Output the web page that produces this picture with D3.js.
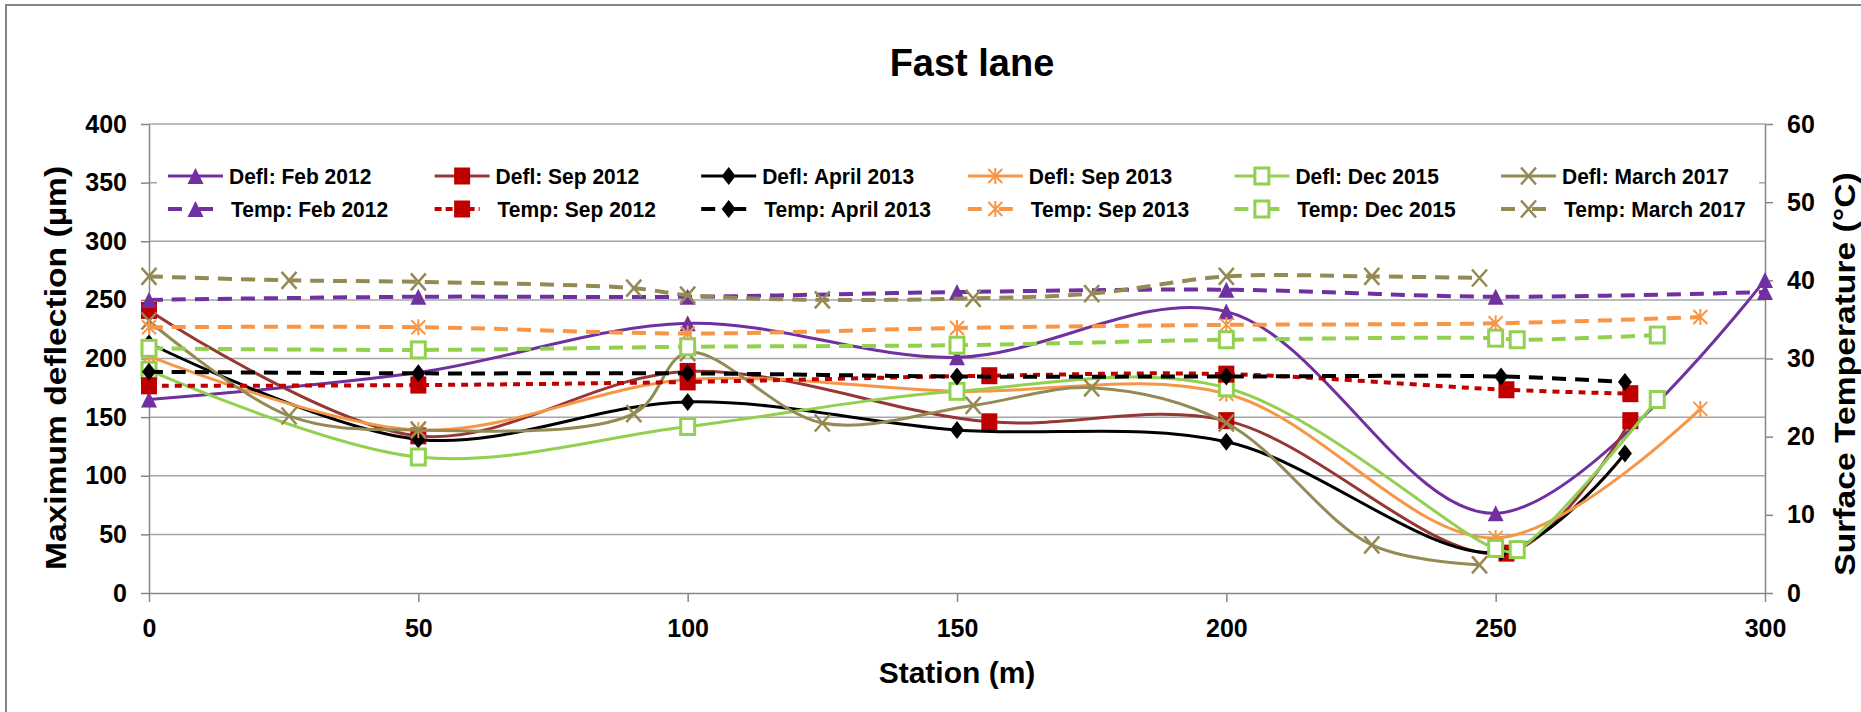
<!DOCTYPE html>
<html><head><meta charset="utf-8">
<script src="https://cdn.jsdelivr.net/npm/d3@7"></script>
<style>
html,body{margin:0;padding:0;background:#fff;}
svg{display:block;}
.reg{font-family:'Liberation Sans',Arial,sans-serif;font-weight:bold;}
</style></head><body>
<svg id="chart" width="1861" height="712"></svg>
<script>
// ---------- data ----------
const xTicks = [0, 50, 100, 150, 200, 250, 300];
const yLeftTicks = [0, 50, 100, 150, 200, 250, 300, 350, 400];
const yRightTicks = [0, 10, 20, 30, 40, 50, 60];

const campaigns = ["Feb 2012", "Sep 2012", "April 2013", "Sep 2013", "Dec 2015", "March 2017"];

const stationFeb2012 = [0, 50, 100, 150, 200, 250, 300];
const deflFeb2012    = [165, 188, 230, 201, 240, 68, 267];
const tempFeb2012    = [37.5, 37.9, 37.9, 38.5, 38.8, 37.9, 38.5];

const stationSep2012 = [0, 50, 100, 156, 200, 252, 275];
const deflSep2012    = [241, 134, 189, 146, 147, 34, 147];
const tempSep2012    = [26.5, 26.6, 27.0, 27.8, 28.0, 26.0, 25.5];

const stationApr2013 = [0, 50, 100, 150, 200, 251, 274];
const deflApr2013    = [213, 131, 163, 139, 129, 35, 119];
const tempApr2013    = [28.3, 28.1, 28.1, 27.7, 27.7, 27.7, 27.0];

const stationSep2013 = [0, 50, 100, 150, 200, 250, 288];
const deflSep2013    = [202, 139, 182, 172, 170, 47, 157];
const tempSep2013    = [34.0, 34.0, 33.2, 33.9, 34.3, 34.5, 35.3];

const stationDec2015 = [0, 50, 100, 150, 200, 250, 254, 280];
const deflDec2015    = [190, 116, 142, 172, 175, 38, 37, 165];
const tempDec2015    = [31.3, 31.1, 31.5, 31.7, 32.4, 32.6, 32.4, 33.0];

const stationMar2017 = [0, 26, 50, 90, 100, 125, 153, 175, 200, 227, 247];
const deflMar2017    = [232, 151, 139, 153, 205, 145, 160, 175, 145, 41, 24];
const tempMar2017    = [40.5, 40.0, 39.8, 39.0, 38.1, 37.5, 37.7, 38.3, 40.5, 40.5, 40.3];

const stations = [stationFeb2012, stationSep2012, stationApr2013, stationSep2013, stationDec2015, stationMar2017];
const defls    = [deflFeb2012, deflSep2012, deflApr2013, deflSep2013, deflDec2015, deflMar2017];
const temps    = [tempFeb2012, tempSep2012, tempApr2013, tempSep2013, tempDec2015, tempMar2017];

// ---------- styles ----------
const deflColor  = ["#7030a0", "#953735", "#000000", "#f79646", "#92d050", "#948a54"];
const tempColor  = ["#7030a0", "#c00000", "#000000", "#f79646", "#92d050", "#948a54"];
const markColor  = ["#7030a0", "#c00000", "#000000", "#f79646", "#92d050", "#948a54"];
const markType   = ["tri", "square", "diamond", "star", "open", "x"];
const tempDash   = ["14,9", "7,6", "14,9", "14,9", "14,9", "14,9"];

// ---------- layout ----------
const svg = d3.select("#chart");
const X0 = 149, X1 = 1765, YT = 124, YB = 593;
const x = d3.scaleLinear().domain([0, 300]).range([X0, X1]);
const yL = d3.scaleLinear().domain([0, 400]).range([YB, YT]);
const yR = d3.scaleLinear().domain([0, 60]).range([YB, YT]);

// outer border
svg.append("rect").attr("x", 6).attr("y", 5).attr("width", 1900).attr("height", 760)
  .attr("fill", "#fff").attr("stroke", "#868686").attr("stroke-width", 2);

// title
svg.append("text").attr("class", "reg").attr("x", 972).attr("y", 76)
  .attr("text-anchor", "middle").attr("font-size", 38).text("Fast lane");

// gridlines
svg.append("g").selectAll("line").data(yLeftTicks.filter(d => d > 0)).join("line")
  .attr("x1", X0).attr("x2", X1).attr("y1", d => yL(d)).attr("y2", d => yL(d))
  .attr("stroke", "#a6a6a6").attr("stroke-width", 1.5);

// axes
const axisStyle = g => {
  g.select(".domain").attr("stroke", "#868686").attr("stroke-width", 1.5);
  g.selectAll(".tick line").attr("stroke", "#868686").attr("stroke-width", 1.5);
  g.selectAll(".tick text").attr("class", "reg").attr("font-size", 25).attr("fill", "#000");
};
svg.append("g").attr("transform", `translate(0,${YB})`)
  .call(d3.axisBottom(x).tickValues(xTicks).tickSize(9).tickSizeOuter(0).tickPadding(17))
  .call(axisStyle).call(g => g.selectAll(".tick text").attr("dy", "0.71em"));
svg.append("g").attr("transform", `translate(${X0},0)`)
  .call(d3.axisLeft(yL).tickValues(yLeftTicks).tickSize(8).tickSizeOuter(0).tickPadding(14))
  .call(axisStyle);
svg.append("g").attr("transform", `translate(${X1},0)`)
  .call(d3.axisRight(yR).tickValues(yRightTicks).tickSize(8).tickSizeOuter(0).tickPadding(14))
  .call(axisStyle);

// axis titles
svg.append("text").attr("class", "reg").attr("font-size", 30).attr("text-anchor", "middle")
  .attr("x", (X0 + X1) / 2).attr("y", 683).text("Station (m)");
svg.append("text").attr("class", "reg").attr("font-size", 29).attr("text-anchor", "middle")
  .attr("transform", "translate(66,368) rotate(-90) scale(1.16,1)").text("Maximum deflection (µm)");
svg.append("text").attr("class", "reg").attr("font-size", 29).attr("text-anchor", "middle")
  .attr("transform", "translate(1855,374) rotate(-90) scale(1.16,1)").text("Surface Temperature (°C)");

// markers
function marker(g, type, cx, cy, color) {
  const m = g.append("g").attr("transform", `translate(${cx},${cy})`);
  if (type === "tri") m.append("path").attr("d", "M0,-8L8,8L-8,8Z").attr("fill", color);
  else if (type === "square") m.append("rect").attr("x", -8).attr("y", -8.5).attr("width", 16).attr("height", 17).attr("fill", color);
  else if (type === "diamond") m.append("path").attr("d", "M0,-9L7,0L0,9L-7,0Z").attr("fill", color);
  else if (type === "star") m.append("path").attr("d", "M0,-8V8M-7,-7L7,7M-7,7L7,-7").attr("stroke", color).attr("stroke-width", 2).attr("fill", "none");
  else if (type === "x") m.append("path").attr("d", "M-7.5,-8.5L7.5,8.5M-7.5,8.5L7.5,-8.5").attr("stroke", color).attr("stroke-width", 2.5).attr("fill", "none");
  else if (type === "open") m.append("rect").attr("x", -7).attr("y", -8).attr("width", 14).attr("height", 16).attr("fill", "#fff").attr("stroke", color).attr("stroke-width", 3);
}

const curve = d3.curveCatmullRom.alpha(0.5);
const plot = svg.append("g");

// deflection series (primary axis)
campaigns.forEach((c, i) => {
  const pts = stations[i].map((s, j) => [x(s), yL(defls[i][j])]);
  plot.append("path").attr("d", d3.line().curve(curve)(pts))
    .attr("fill", "none").attr("stroke", deflColor[i]).attr("stroke-width", 3);
  pts.forEach(p => marker(plot, markType[i], p[0], p[1], markColor[i]));
});
// temperature series (secondary axis)
campaigns.forEach((c, i) => {
  const pts = stations[i].map((s, j) => [x(s), yR(temps[i][j])]);
  plot.append("path").attr("d", d3.line().curve(curve)(pts))
    .attr("fill", "none").attr("stroke", tempColor[i]).attr("stroke-width", 4)
    .attr("stroke-dasharray", tempDash[i]);
  pts.forEach(p => marker(plot, markType[i], p[0], p[1], markColor[i]));
});

// legend
const leg = svg.append("g");
leg.append("rect").attr("x", 157).attr("y", 138).attr("width", 1602).attr("height", 94).attr("fill", "#fff");
campaigns.forEach((c, i) => {
  const lx = 168 + i * 266.6;
  // Defl row
  leg.append("line").attr("x1", lx).attr("x2", lx + 55).attr("y1", 176).attr("y2", 176)
    .attr("stroke", deflColor[i]).attr("stroke-width", 3);
  marker(leg, markType[i], lx + 27.5, 176, markColor[i]);
  leg.append("text").attr("class", "reg").attr("font-size", 21)
    .attr("transform", `translate(${lx + 61},184) scale(1,1.08)`).text("Defl: " + c);
  // Temp row
  leg.append("line").attr("x1", lx).attr("x2", lx + 45).attr("y1", 209).attr("y2", 209)
    .attr("stroke", tempColor[i]).attr("stroke-width", 4).attr("stroke-dasharray", i === 1 ? "7,4" : "14,17");
  marker(leg, markType[i], lx + 27.5, 209, markColor[i]);
  leg.append("text").attr("class", "reg").attr("font-size", 21)
    .attr("transform", `translate(${lx + 63},217) scale(1,1.08)`).text("Temp: " + c);
});
</script>
</body></html>
